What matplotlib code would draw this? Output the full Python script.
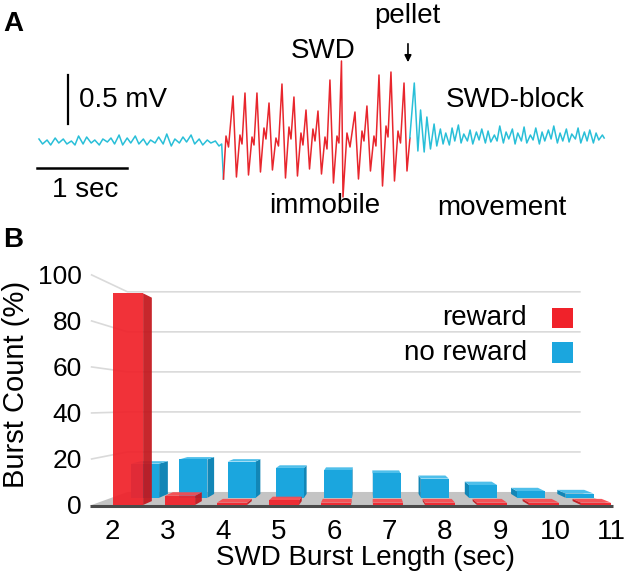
import numpy as np
import matplotlib
matplotlib.use('Agg')
import matplotlib.pyplot as plt
from matplotlib.patches import Polygon, Rectangle

plt.rcParams['font.family'] = ['Liberation Sans', 'DejaVu Sans']

# ---- panel A: EEG trace (time in s, voltage in mV), turning points
pre_t = [0.00, 0.04, 0.09, 0.13, 0.18, 0.22, 0.27, 0.31, 0.36, 0.40,
         0.44, 0.49, 0.53, 0.58, 0.62, 0.67, 0.71, 0.76, 0.80, 0.84,
         0.89, 0.93, 0.98, 1.02, 1.07, 1.11, 1.16, 1.20, 1.24, 1.29,
         1.33, 1.38, 1.42, 1.47, 1.51, 1.56, 1.60, 1.64, 1.69, 1.73,
         1.78, 1.82, 1.87, 1.91, 1.96, 2.00, 2.03, 2.05]
pre_v = [0.02, -0.03, 0.01, -0.04, 0.03, -0.02, 0.02, -0.03, 0.00, -0.04,
         0.05, -0.03, 0.04, -0.02, 0.01, -0.04, 0.02, -0.01, 0.03, -0.03,
         0.06, -0.04, 0.03, -0.02, 0.05, -0.03, 0.02, -0.04, 0.01, -0.02,
         0.04, -0.03, 0.07, -0.05, 0.02, -0.02, 0.04, -0.01, 0.06, -0.03,
         0.02, -0.04, 0.01, -0.02, 0.00, -0.05, -0.03, -0.38]

swd_t = [2.050, 2.078, 2.106,
         2.156, 2.194, 2.233, 2.256,
         2.289, 2.328, 2.367, 2.389,
         2.422, 2.461, 2.500, 2.522,
         2.556, 2.594, 2.633, 2.661,
         2.700, 2.739, 2.778, 2.800,
         2.833, 2.872, 2.911, 2.933,
         2.967, 3.006, 3.044, 3.067,
         3.100, 3.139, 3.178, 3.200,
         3.233, 3.272, 3.311, 3.333,
         3.361, 3.378, 3.422, 3.456,
         3.511, 3.550, 3.589, 3.611,
         3.644, 3.683, 3.722, 3.744,
         3.778, 3.817, 3.856, 3.878,
         3.911, 3.950, 3.989, 4.017,
         4.056, 4.089, 4.122]
swd_v = [-0.38, 0.05, -0.06,
         0.45, -0.36, 0.06, -0.03,
         0.48, -0.34, 0.04, -0.04,
         0.48, -0.31, 0.13, 0.02,
         0.38, -0.29, 0.03, -0.05,
         0.57, -0.37, 0.14, 0.02,
         0.44, -0.35, 0.08, -0.04,
         0.31, -0.28, 0.12, 0.00,
         0.30, -0.33, 0.04, -0.08,
         0.61, -0.42, 0.05, -0.02,
         0.80, -0.56, 0.08, -0.06,
         0.29, -0.38, 0.10, 0.00,
         0.35, -0.30, 0.05, -0.05,
         0.66, -0.45, 0.15, 0.04,
         0.69, -0.40, 0.10, -0.02,
         0.58, -0.30, 0.03]

post_t = [4.12, 4.17, 4.21, 4.24, 4.28, 4.31, 4.35, 4.39,
          4.42, 4.46, 4.49, 4.52, 4.56, 4.59, 4.62, 4.66, 4.69, 4.72,
          4.76, 4.79, 4.82, 4.86, 4.89, 4.92, 4.96, 4.99, 5.02, 5.06,
          5.09, 5.12, 5.16, 5.19, 5.22, 5.26, 5.29, 5.32, 5.36, 5.39,
          5.42, 5.46, 5.49, 5.52, 5.56, 5.59, 5.62, 5.66, 5.69, 5.72,
          5.76, 5.79, 5.82, 5.86, 5.89, 5.92, 5.96, 5.99, 6.02, 6.06,
          6.09, 6.12, 6.16, 6.19, 6.22, 6.26,
          6.28]
post_v = [0.03, 0.58, -0.10, 0.31, -0.11, 0.24, -0.08, 0.17,
          -0.05, 0.12, -0.03, 0.08, -0.04, 0.13, 0.00, 0.16, -0.02, 0.07,
          0.00, 0.11, -0.03, 0.09, 0.01, 0.12, -0.02, 0.10, -0.01, 0.06,
          0.00, 0.15, -0.02, 0.09, 0.02, 0.12, -0.03, 0.08, 0.00, 0.14,
          -0.02, 0.06, 0.01, 0.13, -0.03, 0.09, 0.00, 0.11, 0.02, 0.15,
          -0.02, 0.08, 0.00, 0.12, -0.01, 0.07, 0.02, 0.13, -0.02, 0.09,
          0.00, 0.11, -0.02, 0.08, 0.01, 0.06,
          0.03]

# ---- panel B: burst length histogram
burst_len = [2, 3, 4, 5, 6, 7, 8, 9, 10, 11]
reward = [92, 4, 1, 2, 1, 1, 1, 1, 1, 1]
no_reward = [16, 18, 17, 14, 13, 11.5, 9, 6, 3, 2]

cyan = '#29bfd8'
red_trace = '#e8262d'

fig = plt.figure(figsize=(6.4, 5.82), dpi=100)

# panel A
ax_a = fig.add_axes([0, 1 - 230 / 582, 1, 230 / 582])
ax_a.set_xlim(-0.433, 6.678)
ax_a.set_ylim(-0.89, 1.41)
ax_a.axis('off')
ax_a.plot(pre_t, pre_v, color=cyan, lw=1.1, solid_joinstyle='round')
ax_a.plot(swd_t, swd_v, color=red_trace, lw=1.1, solid_joinstyle='round')
ax_a.plot(post_t, post_v, color=cyan, lw=1.1, solid_joinstyle='round')

# scale bars
ax_a.plot([0.32, 0.32], [0.17, 0.66], color='black', lw=1.6)
ax_a.plot([-0.02, 0.98], [-0.27, -0.27], color='black', lw=1.8)
ax_a.text(0.44, 0.41, '0.5 mV', fontsize=20, ha='left', va='center')
ax_a.text(0.51, -0.49, '1 sec', fontsize=20, ha='center', va='center')

ax_a.text(3.16, 0.90, 'SWD', fontsize=20, ha='center', va='center')
ax_a.text(4.09, 1.25, 'pellet', fontsize=20, ha='center', va='center')
ax_a.annotate('', xy=(4.10, 0.76), xytext=(4.10, 1.00),
              arrowprops=dict(arrowstyle='-|>', color='black', lw=1.2,
                              mutation_scale=10))
ax_a.text(5.29, 0.41, 'SWD-block', fontsize=20, ha='center', va='center')
ax_a.text(3.18, -0.65, 'immobile', fontsize=20, ha='center', va='center')
ax_a.text(5.14, -0.67, 'movement', fontsize=20, ha='center', va='center')

fig.text(13 / 640, 1 - 24 / 582, 'A', fontsize=20, weight='bold', ha='center', va='center')
fig.text(13 / 640, 1 - 240 / 582, 'B', fontsize=20, weight='bold', ha='center', va='center')

# panel B: fake 3D column chart
ax_b = fig.add_axes([86 / 640, 67 / 582, 554 / 640, 270 / 582])
ax_b.set_xlim(1.192, 11.846)
ax_b.set_ylim(-4.35, 113)
ax_b.set_facecolor('none')
for sp in ax_b.spines.values():
    sp.set_visible(False)

EYE_C, EYE_V = 6.6, 43.5
SHRINK = 0.13


def proj(c, v, t):
    s = 1 - SHRINK * t
    return EYE_C + (c - EYE_C) * s, EYE_V + (v - EYE_V) * s


def face(pts, color, z, alpha=1.0):
    xy = [proj(*p) for p in pts]
    ax_b.add_patch(Polygon(xy, closed=True, facecolor=color, edgecolor='none',
                           alpha=alpha, zorder=z))


def box(c, h, t0, t1, w, cols, z, alpha=1.0):
    front, side, top = cols
    cl, cr = c - w / 2, c + w / 2
    if cr < EYE_C:
        face([(cr, 0, t0), (cr, h, t0), (cr, h, t1), (cr, 0, t1)], side, z, alpha)
    if cl > EYE_C:
        face([(cl, 0, t0), (cl, h, t0), (cl, h, t1), (cl, 0, t1)], side, z, alpha)
    if h < EYE_V:
        face([(cl, h, t0), (cr, h, t0), (cr, h, t1), (cl, h, t1)], top, z, alpha)
    face([(cl, 0, t0), (cr, 0, t0), (cr, h, t0), (cl, h, t0)], front, z + 0.1, alpha)


c_lo, c_hi = 1.3, 11.3
# floor
face([(c_lo, 0, -0.05), (c_hi, 0, -0.05), (c_hi, 0, 1), (c_lo, 0, 1)], '#c4c4c4', 1)
x0, y0 = proj(c_lo, 0, -0.05)
x1, y1 = proj(c_hi, 0, -0.05)
ax_b.plot([x0, x1], [y0, y1], color='#4a4a4a', lw=2.2, zorder=1.5, solid_capstyle='butt')

# gridlines on the back wall
for v in range(20, 101, 20):
    xa, ya = proj(c_lo, v, 0)
    xb, yb = proj(c_lo, v, 1)
    xc, yc = proj(c_hi, v, 1)
    ax_b.plot([xa, xb, xc], [ya, yb, yc], color='#dadada', lw=1.2, zorder=0.5)

w = 0.58
for i, c in enumerate(burst_len):
    box(c, no_reward[i], 0.55, 0.85, w, ('#1ba6de', '#1286b6', '#4fbfea'), 2)
for i, c in enumerate(burst_len):
    box(c, reward[i], 0.0, 0.3, w, ('#f0222a', '#c3161c', '#f84a4f'), 3, alpha=0.93)

ax_b.set_yticks(range(0, 101, 20))
ax_b.tick_params(axis='y', length=0, pad=3, labelsize=19)
ax_b.set_xticks([proj(c, 0, -0.5)[0] for c in burst_len], [str(c) for c in burst_len])
ax_b.tick_params(axis='x', length=0, pad=3, labelsize=20)

# legend
ax_b.text(9.67, 81.3, 'reward', fontsize=20, ha='right', va='center')
ax_b.text(9.67, 66.1, 'no reward', fontsize=20, ha='right', va='center')
ax_b.add_patch(Rectangle((10.15, 77.0), 0.40, 8.7, facecolor='#f0222a', edgecolor='none'))
ax_b.add_patch(Rectangle((10.15, 61.7), 0.40, 9.2, facecolor='#1ba6de', edgecolor='none'))

fig.text(365 / 640, 1 - 558 / 582, 'SWD Burst Length (sec)', fontsize=20, ha='center', va='center')
fig.text(16 / 640, 1 - 384 / 582, 'Burst Count (%)', fontsize=21, rotation=90,
         ha='center', va='center')

fig.savefig('out.png', dpi=100)
